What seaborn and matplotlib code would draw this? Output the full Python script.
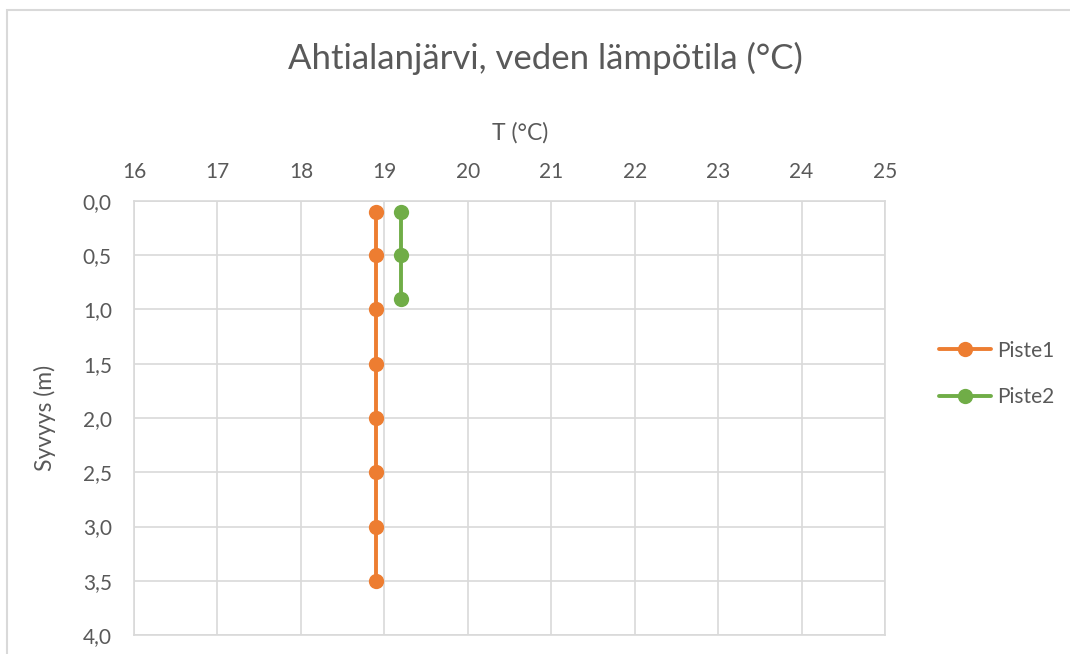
import matplotlib
matplotlib.use("Agg")
import matplotlib.pyplot as plt
import seaborn as sns
import pandas as pd
from matplotlib.patches import Rectangle

# Data
piste1_depth = [0.1, 0.5, 1.0, 1.5, 2.0, 2.5, 3.0, 3.5]
piste1_temp = [18.9, 18.9, 18.9, 18.9, 18.9, 18.9, 18.9, 18.9]
piste2_depth = [0.1, 0.5, 0.9]
piste2_temp = [19.2, 19.2, 19.2]
series_names = ["Piste1", "Piste2"]
x_ticks = [16, 17, 18, 19, 20, 21, 22, 23, 24, 25]
y_ticks = [0.0, 0.5, 1.0, 1.5, 2.0, 2.5, 3.0, 3.5, 4.0]
y_tick_labels = ["0,0", "0,5", "1,0", "1,5", "2,0", "2,5", "3,0", "3,5", "4,0"]
title = "Ahtialanjärvi, veden lämpötila (°C)"
x_label = "T (°C)"
y_label = "Syvyys (m)"

df = pd.DataFrame({
    "temp": piste1_temp + piste2_temp,
    "depth": piste1_depth + piste2_depth,
    "series": [series_names[0]] * len(piste1_temp) + [series_names[1]] * len(piste2_temp),
})

sns.set_style("white")
plt.rcParams["font.family"] = ["Lato", "DejaVu Sans"]

W, H = 1070, 654
fig = plt.figure(figsize=(W / 100, H / 100), dpi=100)
ax = fig.add_axes([134 / W, 1 - 635 / H, (885 - 134) / W, (635 - 201) / H])

palette = {"Piste1": "#ED7D31", "Piste2": "#70AD47"}
sns.lineplot(data=df, x="temp", y="depth", hue="series", palette=palette,
             sort=False, estimator=None, marker="o", markersize=11,
             markeredgewidth=0, linewidth=2.8, ax=ax, legend=True)

ax.set_xlim(16, 25)
ax.set_ylim(4.0, 0.0)
ax.set_xticks(x_ticks)
ax.set_yticks(y_ticks)
ax.set_yticklabels(y_tick_labels)
ax.xaxis.tick_top()
ax.xaxis.set_label_position("top")
ax.tick_params(axis="both", length=0, labelsize=15, colors="#595959")
ax.tick_params(axis="x", pad=14)
ax.tick_params(axis="y", pad=16)
ax.grid(True, color="#d9d9d9", linewidth=1.2)
for s in ax.spines.values():
    s.set_visible(True)
    s.set_color("#d9d9d9")
    s.set_linewidth(1.2)

ax.set_xlabel(x_label, fontsize=16.5, color="#595959")
ax.set_ylabel(y_label, fontsize=16.5, color="#595959")
ax.xaxis.set_label_coords((520 - 134) / 751, (635 - 133) / 434)
ax.xaxis.label.set_va("center")
ax.yaxis.set_label_coords((45 - 134) / 751, 0.5)
ax.yaxis.label.set_va("center")

leg = ax.legend(loc="center left", bbox_to_anchor=(920 / W, 1 - 374 / H),
                bbox_transform=fig.transFigure, frameon=False, fontsize=15,
                handlelength=2.5, handletextpad=0.3, labelspacing=1.28)
for t in leg.get_texts():
    t.set_color("#595959")

fig.text(545 / W, 1 - 58 / H, title, ha="center", va="center", fontsize=25, color="#595959")

fig.patches.append(Rectangle((7 / W, -0.1), 1.2, 1 - 10.5 / H + 0.1, transform=fig.transFigure,
                             fill=False, edgecolor="#d9d9d9", linewidth=1.5))

fig.savefig("out.png", dpi=100, facecolor="white")
